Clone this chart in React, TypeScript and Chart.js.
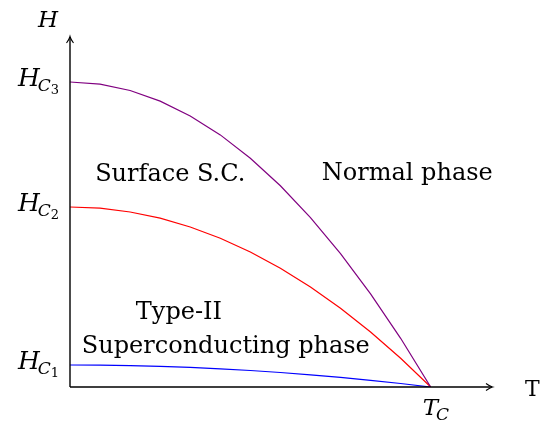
import { useEffect, useRef } from 'react';
import { Chart, registerables } from 'chart.js';

Chart.register(...registerables);

// Temperature samples (T / Tc)
const T_VALUES = [0, 0.0833, 0.1667, 0.25, 0.3333, 0.4167, 0.5, 0.5833, 0.6667, 0.75, 0.8333, 0.9167, 1];
// Critical fields H(T)
const HC3_VALUES = [3.05, 3.029, 2.965, 2.859, 2.711, 2.521, 2.288, 2.012, 1.694, 1.334, 0.932, 0.487, 0];
const HC2_VALUES = [1.8, 1.788, 1.75, 1.688, 1.6, 1.488, 1.35, 1.187, 1.0, 0.788, 0.55, 0.287, 0];
const HC1_VALUES = [0.22, 0.218, 0.214, 0.206, 0.196, 0.182, 0.165, 0.145, 0.122, 0.096, 0.067, 0.035, 0];

// Tick labels on the H axis
const FIELD_LEVELS = [3.05, 1.8, 0.22];
const FIELD_INDEX = ['3', '2', '1'];

// Region labels
const REGION_LABELS = ['Surface S.C.', 'Normal phase', 'Type-II', 'Superconducting phase'];
const REGION_T = [0.278, 0.935, 0.302, 0.432];
const REGION_H = [2.06, 2.07, 0.68, 0.34];

const X_MAX = 1.17;
const Y_MAX = 3.5;
const TC = 1;

const SERIF = "DejaVu Serif";

export default function App() {
  const canvasRef = useRef<HTMLCanvasElement | null>(null);

  useEffect(() => {
    document.body.style.margin = '0';
    const canvas = canvasRef.current;
    if (!canvas) return;

    const toPts = (ys: number[]) => T_VALUES.map((t, i) => ({ x: t, y: ys[i] }));

    const decorations = {
      id: 'decorations',
      afterDraw(chart: any) {
        const ctx = chart.ctx as CanvasRenderingContext2D;
        const xs = chart.scales.x;
        const ys = chart.scales.y;
        const ca = chart.chartArea;
        const x0 = xs.getPixelForValue(0);
        const y0 = ys.getPixelForValue(0);
        ctx.save();
        ctx.strokeStyle = '#000';
        ctx.fillStyle = '#000';
        ctx.lineWidth = 1.4;
        ctx.beginPath();
        ctx.moveTo(x0, y0);
        ctx.lineTo(ca.right, y0);
        ctx.moveTo(x0, y0);
        ctx.lineTo(x0, ca.top);
        ctx.stroke();
        ctx.lineWidth = 1.1;
        ctx.beginPath();
        const rx = ca.right;
        ctx.moveTo(rx - 6, y0 - 3.5);
        ctx.quadraticCurveTo(rx - 2, y0 - 0.6, rx + 0.5, y0);
        ctx.quadraticCurveTo(rx - 2, y0 + 0.6, rx - 6, y0 + 3.5);
        const ty = ca.top;
        ctx.moveTo(x0 - 3.5, ty + 6);
        ctx.quadraticCurveTo(x0 - 0.6, ty + 2, x0, ty - 0.5);
        ctx.quadraticCurveTo(x0 + 0.6, ty + 2, x0 + 3.5, ty + 6);
        ctx.stroke();

        ctx.textBaseline = 'alphabetic';
        // axis labels
        ctx.font = `italic 23px ${SERIF}`;
        ctx.textAlign = 'center';
        ctx.fillText('H', x0 - 22, ca.top - 10);
        ctx.font = `22px ${SERIF}`;
        ctx.textAlign = 'left';
        ctx.fillText('T', ca.right + 33, y0 + 9);

        // T_C
        const tcx = xs.getPixelForValue(TC);
        ctx.font = `italic 23px ${SERIF}`;
        ctx.textAlign = 'left';
        const tW = ctx.measureText('T').width;
        ctx.fillText('T', tcx - 8, y0 + 28);
        ctx.font = `italic 17px ${SERIF}`;
        ctx.fillText('C', tcx - 8 + tW - 2, y0 + 33);

        // H_{C_n}
        FIELD_LEVELS.forEach((lvl, i) => {
          const py = ys.getPixelForValue(lvl);
          const right = x0 - 12;
          ctx.font = `13px ${SERIF}`;
          const dW = ctx.measureText(FIELD_INDEX[i]).width;
          ctx.font = `italic 17px ${SERIF}`;
          const cW = ctx.measureText('C').width;
          ctx.font = `italic 25px ${SERIF}`;
          const hW = ctx.measureText('H').width;
          const start = right - dW - cW - hW + 3;
          ctx.textAlign = 'left';
          ctx.fillText('H', start, py + 4);
          ctx.font = `italic 17px ${SERIF}`;
          ctx.fillText('C', start + hW - 2, py + 9);
          ctx.font = `13px ${SERIF}`;
          ctx.fillText(FIELD_INDEX[i], start + hW - 2 + cW, py + 12);
        });

        // region labels
        ctx.font = `24px ${SERIF}`;
        ctx.textAlign = 'center';
        REGION_LABELS.forEach((lab, i) => {
          ctx.fillText(lab, xs.getPixelForValue(REGION_T[i]), ys.getPixelForValue(REGION_H[i]));
        });
        ctx.restore();
      },
    };

    const chart = new Chart(canvas, {
      type: 'scatter',
      data: {
        datasets: [
          { data: toPts(HC3_VALUES), borderColor: '#800080', borderWidth: 1.2, showLine: true, pointRadius: 0, tension: 0 },
          { data: toPts(HC2_VALUES), borderColor: '#ff0000', borderWidth: 1.2, showLine: true, pointRadius: 0, tension: 0 },
          { data: toPts(HC1_VALUES), borderColor: '#0000ff', borderWidth: 1.2, showLine: true, pointRadius: 0, tension: 0 },
        ],
      },
      options: {
        animation: false,
        responsive: false,
        devicePixelRatio: 1,
        layout: { padding: { left: 70, right: 48, top: 37, bottom: 36 } },
        plugins: { legend: { display: false }, tooltip: { enabled: false } },
        scales: {
          x: { type: 'linear', min: 0, max: X_MAX, display: false },
          y: { type: 'linear', min: 0, max: Y_MAX, display: false },
        },
      },
      plugins: [decorations],
    });

    return () => { chart.destroy(); };
  }, []);

  return (
    <div style={{ width: 540, height: 423, background: '#fff' }}>
      <canvas ref={canvasRef} width={540} height={423} style={{ display: 'block' }} />
    </div>
  );
}
